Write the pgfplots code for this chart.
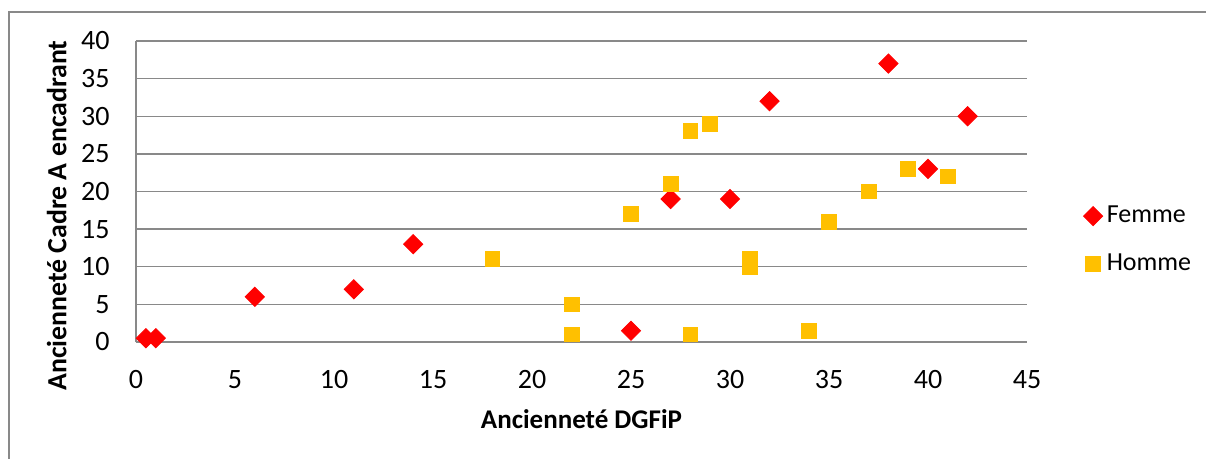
\documentclass[border=0pt]{standalone}
\usepackage{pgfplots}
\pgfplotsset{compat=1.18}
\usepackage{fontspec}
\setmainfont{Carlito}
\definecolor{femme}{HTML}{FF0000}
\definecolor{homme}{HTML}{FFC000}
\definecolor{gridc}{HTML}{898989}
\begin{document}
\fontsize{13}{15.6}\selectfont
\begin{tikzpicture}
\useasboundingbox (0,0) rectangle (603pt,229.5pt);
\draw[gridc, line width=1pt] (4.5pt,-2pt) -- (4.5pt,223.5pt) -- (610pt,223.5pt);
\begin{axis}[
  at={(68pt,58.5pt)}, anchor=south west,
  scale only axis, width=445.5pt, height=150.5pt,
  xmin=0, xmax=45, ymin=0, ymax=40,
  xtick={0,5,...,45}, ytick={0,5,...,40},
  axis x line*=bottom, axis y line*=left,
  axis line style={gridc, line width=0.7pt, -},
  ymajorgrids, grid style={gridc, line width=0.7pt},
  major tick length=0pt,
  /pgf/number format/assume math mode=true,
  tick label style={font=\fontsize{14}{16.8}\selectfont, inner sep=0pt},
  yticklabel style={xshift=-13pt},
  xticklabel style={yshift=-14pt},
  xlabel={\bfseries Ancienneté DGFiP},
  ylabel={\bfseries Ancienneté Cadre A encadrant},
  xlabel style={font=\fontsize{13.5}{16}\selectfont, at={(axis description cs:0.5,-0.256)}, anchor=center},
  ylabel style={font=\fontsize{13.9}{16.5}\selectfont, at={(axis description cs:-0.089,0.42)}, anchor=center},
  legend style={draw=none, fill=none, at={(axis description cs:1.063,0.339)}, anchor=west,
    font=\fontsize{13}{15.6}\selectfont, row sep=9.5pt, inner sep=0pt,
    /tikz/every even column/.append style={column sep=4pt}},
  legend cell align=left,
  legend image code/.code={\draw[#1] plot coordinates {(0pt,0pt)};},
]
\addplot[only marks, mark=square*, mark size=3.4pt, mark options={rotate=45, fill=femme, draw=femme}, color=femme]
coordinates {(0.5,0.5) (1,0.5) (6,6) (11,7) (14,13) (25,1.5) (27,19) (30,19) (32,32) (38,37) (40,23) (42,30)};
\addlegendentry{Femme}
\addplot[only marks, mark=square*, mark size=3.7pt, mark options={fill=homme, draw=homme}, color=homme]
coordinates {(18,11) (22,5) (22,1) (25,17) (27,21) (28,28) (28,1) (29,29) (31,11) (31,10) (34,1.5) (35,16) (37,20) (39,23) (41,22)};
\addlegendentry{Homme}
\end{axis}
\end{tikzpicture}
\end{document}
